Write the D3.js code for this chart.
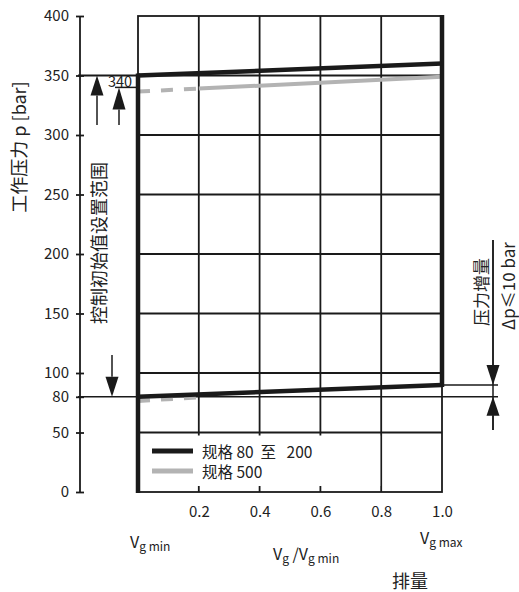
<!DOCTYPE html>
<html>
<head>
<meta charset="utf-8">
<script src="https://cdn.jsdelivr.net/npm/d3@7"></script>
<style>
  html, body { margin: 0; padding: 0; background: #fff; }
  svg { display: block; }
  text { font-family: "Noto Sans CJK SC", "Noto Sans", sans-serif; fill: #222; }
</style>
</head>
<body>
<svg id="chart" width="519" height="592"></svg>
<script>
// ---- data ----
const yTickValues = [0, 50, 80, 100, 150, 200, 250, 300, 350, 400];
const xTickValues = [0.2, 0.4, 0.6, 0.8, 1.0];
const xGrid = [0.2, 0.4, 0.6, 0.8];
const yGrid = [50, 100, 150, 200, 250, 300, 350];

const xBlack = [0, 1];
const blackUpper = [350, 360];      // 规格 80 至 200, upper limit
const blackLower = [80, 90];        // 规格 80 至 200, lower limit

const xGreyDash = [0, 0.2];
const greyUpperDash = [336.5, 339];
const greyLowerDash = [76.5, 79.5];
const xGreySolid = [0.2, 1];
const greyUpperSolid = [339, 349];

const legendLabels = ["规格 80\u00a0 至\u00a0\u00a0 200", "规格 500"];
const legendColors = ["#1a1a1a", "#b3b3b3"];

const refUpper = 350, refUpper2 = 340, refLower = 80, refLowerTop = 90;

// ---- drawing ----
const svg = d3.select("#chart");
const x = d3.scaleLinear().domain([0, 1]).range([138, 442]);
const y = d3.scaleLinear().domain([0, 400]).range([492, 16]);
const ink = "#1a1a1a";
const axisX = 80;

// grid
const g = svg.append("g");
g.selectAll(".vg").data(xGrid).join("line")
  .attr("x1", d => x(d)).attr("x2", d => x(d))
  .attr("y1", y(400)).attr("y2", y(0))
  .attr("stroke", ink).attr("stroke-width", 1.8);
g.selectAll(".hg").data(yGrid).join("line")
  .attr("x1", x(0)).attr("x2", x(1))
  .attr("y1", d => y(d)).attr("y2", d => y(d))
  .attr("stroke", ink).attr("stroke-width", 1.8);
g.append("rect")
  .attr("x", x(0)).attr("y", y(400))
  .attr("width", x(1) - x(0)).attr("height", y(0) - y(400))
  .attr("fill", "none").attr("stroke", ink).attr("stroke-width", 1.8);

// legend box (white, covering part of grid)
g.append("rect")
  .attr("x", x(0) + 1).attr("y", y(50) + 3)
  .attr("width", x(0.8) - x(0) - 2).attr("height", y(0) - y(50) - 9)
  .attr("fill", "#fff");

// y axis
const yAxis = d3.axisLeft(y).tickValues(yTickValues).tickSize(4).tickPadding(10);
const ya = svg.append("g").attr("transform", `translate(${axisX},0)`).call(yAxis);
ya.select(".domain").attr("stroke", ink).attr("stroke-width", 1.8).attr("d", `M0,${y(400)}V${y(0)}`);
ya.selectAll(".tick line").attr("x1", -4).attr("x2", 4).attr("stroke", ink).attr("stroke-width", 1.8);
ya.selectAll(".tick text").style("font-size", "15px").attr("x", -11).attr("fill", "#222");

// x axis labels
const xAxis = d3.axisBottom(x).tickValues(xTickValues).tickSize(0).tickPadding(14).tickFormat(d3.format(".1f"));
const xa = svg.append("g").attr("transform", `translate(0,${y(0)})`).call(xAxis);
xa.select(".domain").remove();
xa.selectAll(".tick text").style("font-size", "15px").attr("fill", "#222");

// reference lines
svg.append("line").attr("x1", axisX - 2).attr("x2", x(0)).attr("y1", y(refUpper)).attr("y2", y(refUpper))
  .attr("stroke", ink).attr("stroke-width", 1.8);
svg.append("line").attr("x1", 115).attr("x2", x(0)).attr("y1", y(refUpper2)).attr("y2", y(refUpper2))
  .attr("stroke", ink).attr("stroke-width", 1.5);
svg.append("text").attr("x", 108).attr("y", y(refUpper2) - 0.5).style("font-size", "14.5px").text("340");
svg.append("line").attr("x1", axisX - 2).attr("x2", 498).attr("y1", y(refLower)).attr("y2", y(refLower))
  .attr("stroke", ink).attr("stroke-width", 1.5);
svg.append("line").attr("x1", x(1)).attr("x2", 498).attr("y1", y(refLowerTop)).attr("y2", y(refLowerTop))
  .attr("stroke", ink).attr("stroke-width", 1.5);

// series lines
const line = d3.line().x(d => x(d[0])).y(d => y(d[1]));
const zip = (xs, ys) => xs.map((v, i) => [v, ys[i]]);
const grey = legendColors[1], black = legendColors[0];

svg.append("path").attr("d", line(zip(xGreyDash, greyUpperDash)))
  .attr("fill", "none").attr("stroke", grey).attr("stroke-width", 4).attr("stroke-dasharray", "12,11");
svg.append("path").attr("d", line(zip(xGreySolid, greyUpperSolid)))
  .attr("fill", "none").attr("stroke", grey).attr("stroke-width", 4);
svg.append("path").attr("d", line(zip(xGreyDash, greyLowerDash)))
  .attr("fill", "none").attr("stroke", grey).attr("stroke-width", 4).attr("stroke-dasharray", "12,11");

// thick vertical boundaries
svg.append("line").attr("x1", x(0)).attr("x2", x(0)).attr("y1", y(blackUpper[0]) - 2).attr("y2", y(0) + 1)
  .attr("stroke", ink).attr("stroke-width", 4.5);
svg.append("line").attr("x1", x(1)).attr("x2", x(1)).attr("y1", y(400) - 1).attr("y2", y(blackLower[1]) + 2)
  .attr("stroke", ink).attr("stroke-width", 4.5);

svg.append("path").attr("d", line(zip(xBlack, blackUpper)))
  .attr("fill", "none").attr("stroke", black).attr("stroke-width", 4.5);
svg.append("path").attr("d", line(zip(xBlack, blackLower)))
  .attr("fill", "none").attr("stroke", black).attr("stroke-width", 4.5);

// arrows
function arrow(xp, yFrom, yTip, head) {
  const dir = yTip > yFrom ? 1 : -1;
  svg.append("line").attr("x1", xp).attr("x2", xp).attr("y1", yFrom).attr("y2", yTip - dir * head)
    .attr("stroke", ink).attr("stroke-width", 1.5);
  svg.append("path")
    .attr("d", `M${xp},${yTip}L${xp - 6.5},${yTip - dir * head}L${xp + 6.5},${yTip - dir * head}Z`)
    .attr("fill", ink);
}
arrow(97, 125, y(refUpper), 20);
arrow(119, 125, y(refUpper2), 22);
arrow(112, 355, y(refLower), 20);
svg.append("line").attr("x1", 493).attr("x2", 493).attr("y1", 240).attr("y2", 430)
  .attr("stroke", ink).attr("stroke-width", 1.5);
arrow(493, 240, y(refLowerTop), 20);
arrow(493, 430, y(refLower), 19);

// legend
const lg = svg.append("g");
legendLabels.forEach((lab, i) => {
  const yy = 451 + i * 20;
  lg.append("line").attr("x1", 152).attr("x2", 193).attr("y1", yy).attr("y2", yy)
    .attr("stroke", legendColors[i]).attr("stroke-width", 5);
  lg.append("text").attr("x", 202).attr("y", yy).attr("dominant-baseline", "central")
    .style("font-size", "15.5px").text(lab);
});

// rotated texts
function vtext(xp, yp, str, size) {
  svg.append("text").attr("transform", `translate(${xp},${yp}) rotate(-90)`)
    .attr("text-anchor", "middle").attr("dominant-baseline", "central")
    .style("font-size", size + "px").text(str);
}
vtext(18, 147, "工作压力 p [bar]", 18);
vtext(98, 243, "控制初始值设置范围", 18);
vtext(480, 292, "压力增量", 17);
vtext(507, 286, "Δp≤10 bar", 17);

// bottom labels with subscripts
function vsub(xp, yp, sub, anchor) {
  const t = svg.append("text").attr("x", xp).attr("y", yp).attr("text-anchor", anchor || "start").style("font-size", "16px");
  t.append("tspan").text("V");
  t.append("tspan").attr("dy", 3).style("font-size", "12px").text(sub);
  return t;
}
vsub(130, 548, "g min");
vsub(420, 544, "g max");
const t3 = svg.append("text").attr("x", 273).attr("y", 560).style("font-size", "16px");
t3.append("tspan").text("V");
t3.append("tspan").attr("dy", 3).style("font-size", "12px").text("g");
t3.append("tspan").attr("dy", -3).text("\u00a0/V");
t3.append("tspan").attr("dy", 3).style("font-size", "12px").text("g min");

svg.append("text").attr("x", 410).attr("y", 588).attr("text-anchor", "middle").style("font-size", "18px").text("排量");
</script>
</body>
</html>
